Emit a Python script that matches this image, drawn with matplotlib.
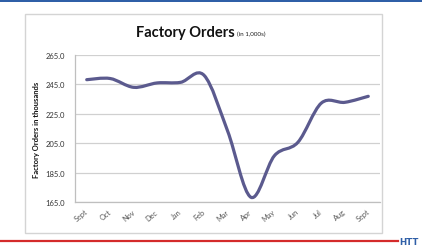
import matplotlib
matplotlib.use("Agg")
import matplotlib.pyplot as plt
import matplotlib.transforms as mtrans
from matplotlib.path import Path
from matplotlib.patches import PathPatch, Rectangle
import numpy as np

months = ["Sept", "Oct", "Nov", "Dec", "Jan", "Feb", "Mar", "Apr", "May", "Jun", "Jul", "Aug", "Sept"]
orders = [248.2, 249.0, 243.0, 246.0, 246.4, 251.2, 213.5, 168.2, 196.5, 205.6, 232.3, 232.8, 236.9]
yticks = [165.0, 185.0, 205.0, 225.0, 245.0, 265.0]

W, H = 422, 253
fig = plt.figure(figsize=(W / 100, H / 100), dpi=100)
fig.patch.set_facecolor("white")
FONT = "Lato"

# top blue bar
fig.add_artist(Rectangle((0, 1 - 3 / H), 1, 3 / H, transform=fig.transFigure,
                         facecolor="#2f5fa7", edgecolor="none", zorder=-5))
# chart frame
fig.add_artist(Rectangle((25 / W, 1 - 234 / H), 357 / W, 219 / H, transform=fig.transFigure,
                         facecolor="white", edgecolor="#d4d4d4", linewidth=1.0, zorder=-5))
# red line + HTT
fig.add_artist(plt.Line2D([0, 398 / W], [1 - 242 / H, 1 - 242 / H], transform=fig.transFigure,
                          color="#d42b2b", linewidth=1.6))
fig.text(399 / W, 1 - 242.5 / H, "HTT", ha="left", va="center", color="#2f5fa7",
         fontsize=6.2, fontweight="heavy", family="DejaVu Sans")

ax = fig.add_axes([75 / W, 1 - 203 / H, 305 / W, 147 / H])
ax.set_zorder(2)
ax.set_facecolor("none")
x = np.arange(len(months))
y = np.array(orders)

# smoothed line (Excel-like Bezier through points)
verts = [(x[0], y[0])]
codes = [Path.MOVETO]
n = len(x)
for i in range(n - 1):
    p0 = (x[max(i - 1, 0)], y[max(i - 1, 0)])
    p1 = (x[i], y[i])
    p2 = (x[i + 1], y[i + 1])
    p3 = (x[min(i + 2, n - 1)], y[min(i + 2, n - 1)])
    c1 = (p1[0] + (p2[0] - p0[0]) / 6, p1[1] + (p2[1] - p0[1]) / 6)
    c2 = (p2[0] - (p3[0] - p1[0]) / 6, p2[1] - (p3[1] - p1[1]) / 6)
    verts += [c1, c2, p2]
    codes += [Path.CURVE4] * 3
ax.add_patch(PathPatch(Path(verts, codes), facecolor="none", edgecolor="#5b5a8e",
                       linewidth=2.3, capstyle="round", joinstyle="round", zorder=3))

ax.set_xlim(-0.5, n - 0.5)
ax.set_ylim(165, 265)
ax.set_yticks(yticks)
ax.set_yticklabels([f"{v:.1f}" for v in yticks], family=FONT, fontsize=5.5, color="#333333")
ax.set_xticks(x)
ax.set_xticklabels(months, rotation=40, ha="right", va="center", rotation_mode="anchor",
                   family=FONT, fontsize=5.3, color="#555555")
offset = mtrans.ScaledTranslation(4 / 100, 0, fig.dpi_scale_trans)
for lbl in ax.get_xticklabels():
    lbl.set_transform(lbl.get_transform() + offset)
ax.tick_params(axis="x", length=0, pad=6)
ax.tick_params(axis="y", length=0, pad=7)
ax.grid(axis="y", color="#d0d0d0", linewidth=0.9)
ax.set_axisbelow(True)
for s in ["top", "right"]:
    ax.spines[s].set_visible(False)
for s in ["left", "bottom"]:
    ax.spines[s].set_color("#bfbfbf")
    ax.spines[s].set_linewidth(0.9)
ax.set_ylabel("Factory Orders in thousands", family=FONT, fontsize=5.5,
              fontweight="bold", color="#111111", labelpad=4)

fig.text(185 / W, 1 - 33 / H, "Factory Orders", ha="center", va="center",
         fontsize=10.5, fontweight="bold", family=FONT, color="#111111")
fig.text(237 / W, 1 - 34 / H, "(in 1,000s)", ha="left", va="center",
         fontsize=4.5, family=FONT, color="#222222")

fig.savefig("out.png", dpi=100, facecolor="white")
